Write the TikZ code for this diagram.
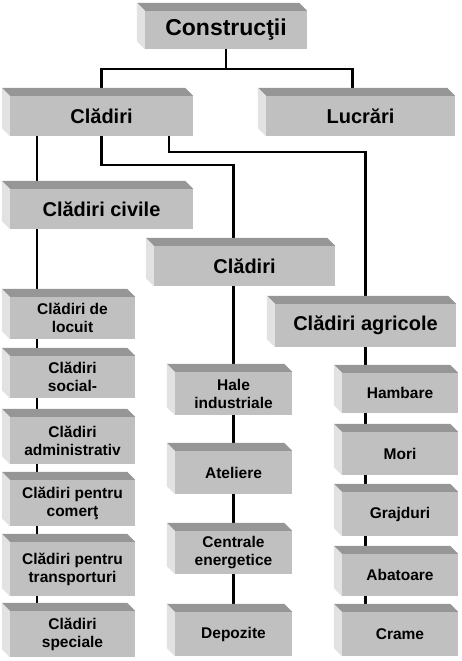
\documentclass[tikz,border=0pt]{standalone}
\usepackage{fontspec}
\setmainfont{Liberation Sans}
\usepackage{tikz}
\usetikzlibrary{backgrounds}
\definecolor{depan}{HTML}{C0C0C0}
\definecolor{atas}{HTML}{969696}
\definecolor{samping}{HTML}{E2E2E2}

\begin{document}
\begin{tikzpicture}[x=1pt,y=-1pt,
    kotak/.style={fill=depan,inner sep=0pt,align=center,minimum width=125pt,
        font=\bfseries\fontsize{15.5}{18}\selectfont},
    besar/.style={kotak,font=\bfseries\fontsize{20}{24}\selectfont},
    garis/.style={line width=2.2pt}]

    \useasboundingbox (0,0) rectangle (461,661);

    % Gambar kotak judul dan cabang utama
    \node[besar,font=\bfseries\fontsize{23}{26}\selectfont,minimum width=162pt,minimum height=38pt] (konstruksi) at (226,30) {Construcţii};
    \node[besar,minimum width=183pt,minimum height=40pt] (cladiri) at (101.5,116) {Clădiri};
    \node[besar,minimum width=189pt,minimum height=40pt] (lucrari) at (360.5,116) {Lucrări};
    \node[besar,minimum width=183pt,minimum height=40pt] (civile) at (101.5,209) {Clădiri civile};
    \node[besar,minimum width=181pt,minimum height=40pt] (industri) at (244.5,266) {Clădiri};
    \node[besar,minimum width=181pt,minimum height=43pt] (agricole) at (365.5,325.5) {Clădiri agricole};

    % Gambar kolom kiri (clădiri civile)
    \node[kotak,minimum height=42pt] (s1) at (72.5,318) {Clădiri de\\locuit};
    \node[kotak,minimum height=42pt] (s2) at (72.5,377) {Clădiri\\social-};
    \node[kotak,minimum height=47pt] (s3) at (72.5,440.5) {Clădiri\\administrativ};
    \node[kotak,minimum height=46pt] (s4) at (72.5,503) {Clădiri pentru\\comerţ};
    \node[kotak,minimum height=54pt] (s5) at (72.5,569) {Clădiri pentru\\transporturi};
    \node[kotak,minimum height=46pt] (s6) at (72.5,634) {Clădiri\\speciale};

    % Gambar kolom tengah (clădiri industriale)
    \node[kotak,minimum width=117pt,minimum height=43pt] (i1) at (233.5,393.5) {Hale\\industriale};
    \node[kotak,minimum width=117pt,minimum height=43pt] (i2) at (233.5,472.5) {Ateliere};
    \node[kotak,minimum width=117pt,minimum height=43pt] (i3) at (233.5,552.5) {Centrale\\energetice};
    \node[kotak,minimum width=117pt,minimum height=44pt] (i4) at (233.5,634) {Depozite};

    % Gambar kolom kanan (clădiri agricole)
    \node[kotak,minimum width=116pt,minimum height=40pt] (a1) at (400,393) {Hambare};
    \node[kotak,minimum width=116pt,minimum height=43pt] (a2) at (400,453.5) {Mori};
    \node[kotak,minimum width=116pt,minimum height=44pt] (a3) at (400,514) {Grajduri};
    \node[kotak,minimum width=116pt,minimum height=42pt] (a4) at (400,575) {Abatoare};
    \node[kotak,minimum width=116pt,minimum height=44pt] (a5) at (400,634) {Crame};

    % Gambar sisi atas dan sisi kiri supaya kotak tampak tiga dimensi
    \foreach \n in {konstruksi,cladiri,lucrari,civile,industri,agricole,s1,s2,s3,s4,s5,s6,i1,i2,i3,i4,a1,a2,a3,a4,a5} {
        \fill[atas] ([shift={(-8pt,8pt)}]\n.north west) -- ([shift={(-8pt,8pt)}]\n.north east) -- (\n.north east) -- (\n.north west) -- cycle;
        \fill[samping] ([shift={(-8pt,8pt)}]\n.north west) -- (\n.north west) -- (\n.south west) -- ([shift={(-8pt,8pt)}]\n.south west) -- cycle;
    }

    % Gambar garis penghubung di belakang kotak
    \coordinate (cabang) at (226,69);
    \coordinate (kiri) at (37,0);
    \begin{scope}[on background layer]
        \draw[garis] (konstruksi) -- (cabang);
        \draw[garis] (cladiri) |- (cabang) -| ([xshift=-8pt]lucrari.center);
        \draw[garis] (cladiri -| kiri) -- (s6 -| kiri);
        \draw[garis] (cladiri) -- ++(0,49) -| (industri -| i1);
        \draw[garis] (industri -| i1) -- (i4);
        \draw[garis] ([xshift=67.5pt]cladiri.center) -- ++(0,36) -| (agricole);
        \draw[garis] (agricole) -- (agricole |- a5);
    \end{scope}

\end{tikzpicture}
\end{document}
